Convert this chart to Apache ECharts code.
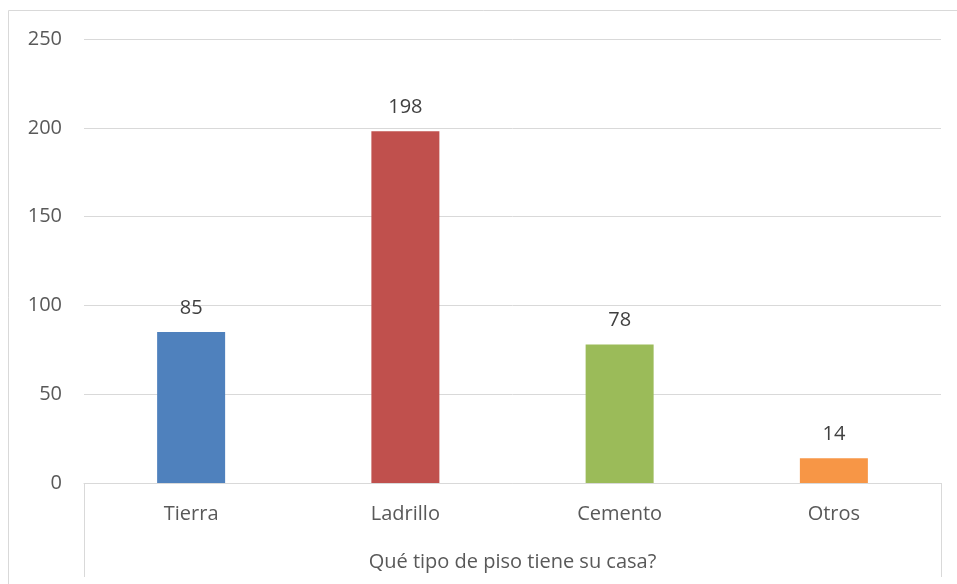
<!DOCTYPE html>
<html><head><meta charset="utf-8">
<script src="https://cdn.jsdelivr.net/npm/echarts@6/dist/echarts.min.js"></script>
<style>html,body{margin:0;padding:0;background:#fff}#c{width:957px;height:584px}</style>
</head><body><div id="c"></div>
<script>
var categories = ['Tierra', 'Ladrillo', 'Cemento', 'Otros'];
var values = [85, 198, 78, 14];
var colors = ['#4f81bd', '#c0504d', '#9bbb59', '#f79646'];
var axisTitle = 'Qué tipo de piso tiene su casa?';

var chart = echarts.init(document.getElementById('c'));
var L = 84, R = 957 - 941, T = 39, B = 584 - 483;
var font = 'Open Sans';
chart.setOption({
  animation: false,
  grid: { left: L, right: R, top: T, bottom: B },
  xAxis: {
    type: 'category', data: categories,
    axisLine: { show: true, lineStyle: { color: '#d9d9d9', width: 1 } },
    axisTick: { show: false },
    axisLabel: { color: '#595959', fontSize: 20, fontFamily: font, margin: 21 },
    name: axisTitle, nameLocation: 'middle', nameGap: 69,
    nameTextStyle: { color: '#595959', fontSize: 20, fontFamily: font }
  },
  yAxis: {
    type: 'value', min: 0, max: 250, interval: 50,
    axisLine: { show: false }, axisTick: { show: false },
    axisLabel: { color: '#595959', fontSize: 20, fontFamily: font, margin: 22 },
    splitLine: { lineStyle: { color: '#d9d9d9', width: 1 } }
  },
  series: [{
    type: 'bar', barWidth: 68,
    data: values.map(function (v, i) { return { value: v, itemStyle: { color: colors[i] } }; }),
    label: { show: true, position: 'top', distance: 14, color: '#404040', fontSize: 20, fontFamily: font }
  }],
  graphic: [
    { type: 'rect', shape: { x: 8.5, y: 10.5, width: 960, height: 600 }, style: { fill: 'none', stroke: '#d9d9d9', lineWidth: 1 } },
    { type: 'line', shape: { x1: L + 0.5, y1: 483, x2: L + 0.5, y2: 577 }, style: { stroke: '#d9d9d9', lineWidth: 1 } },
    { type: 'line', shape: { x1: 941.5, y1: 483, x2: 941.5, y2: 577 }, style: { stroke: '#d9d9d9', lineWidth: 1 } }
  ]
});
</script></body></html>
